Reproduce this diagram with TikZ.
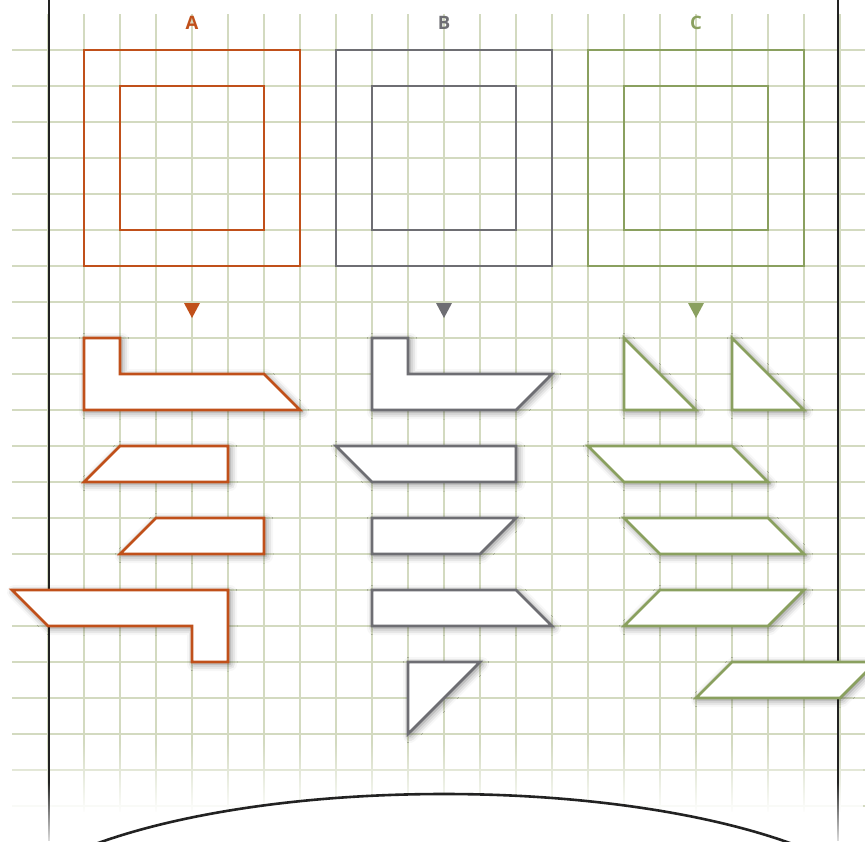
\documentclass[tikz,border=0pt]{standalone}
\usepackage{fontspec}
\setmainfont{Open Sans}
\usetikzlibrary{shadows.blur,fadings}
\definecolor{cA}{HTML}{C0501A}
\definecolor{cB}{HTML}{6E6E73}
\definecolor{cC}{HTML}{8AA05F}
\definecolor{gridc}{HTML}{D3DAC0}
\definecolor{ink}{HTML}{222222}
\tikzfading[name=fadedown, top color=transparent!100, bottom color=transparent!0]
\begin{document}
\begin{tikzpicture}[x=1pt,y=-1pt,
  gridline/.style={gridc, line width=1.7pt},
  frame/.style={draw, line width=2.6pt, line join=miter},
  piece/.style={draw, fill=white, line width=2.6pt, line join=miter,
    blur shadow={shadow xshift=2pt, shadow yshift=-2pt, shadow blur radius=7pt, shadow opacity=50}},
  lbl/.style={font=\bfseries\fontsize{18.5}{18.5}\selectfont, inner sep=0pt},
  marker/.style={draw=none}]
\useasboundingbox (0,0) rectangle (865,841);
\clip (0,0) rectangle (865,841);
% grid
\foreach \x in {48,84,...,840} \draw[gridline] (\x,14) -- (\x,812);
\foreach \y in {50,86,...,806} \draw[gridline] (12,\y) -- (865,\y);
\fill[white, path fading=fadedown] (0,742) rectangle (865,814);
% frame lines
\foreach \x in {49,838} {
  \draw[ink, line width=2.8pt] (\x,0) -- (\x,841);
  \fill[white, fill opacity=0.85, path fading=fadedown] (\x-3,782) rectangle (\x+3,841);
}
% bottom ellipse
\draw[ink, fill=white, line width=2.6pt] (444,934) ellipse [x radius=455, y radius=140];
% labels
\node[lbl, text=cA] (labA) at (192,23) {A};
\node[lbl, text=cB] (labB) at (444,23) {B};
\node[lbl, text=cC] (labC) at (696,23) {C};
% squares
\draw[frame, cA] (84,50) rectangle (300,266) (120,86) rectangle (264,230);
\draw[frame, cB] (336,50) rectangle (552,266) (372,86) rectangle (516,230);
\draw[frame, cC] (588,50) rectangle (804,266) (624,86) rectangle (768,230);
% markers
\fill[cA] (184,303) -- (200,303) -- (192,318) -- cycle;
\fill[cB] (436,303) -- (452,303) -- (444,318) -- cycle;
\fill[cC] (688,303) -- (704,303) -- (696,318) -- cycle;
% pieces A
\path[piece, draw=cA] (84,338) -- (120,338) -- (120,374) -- (264,374) -- (300,410) -- (84,410) -- cycle;
\path[piece, draw=cA] (120,446) -- (228,446) -- (228,482) -- (84,482) -- cycle;
\path[piece, draw=cA] (156,518) -- (264,518) -- (264,554) -- (120,554) -- cycle;
\path[piece, draw=cA] (12,590) -- (228,590) -- (228,662) -- (192,662) -- (192,626) -- (48,626) -- cycle;
% pieces B
\path[piece, draw=cB] (372,338) -- (408,338) -- (408,374) -- (552,374) -- (516,410) -- (372,410) -- cycle;
\path[piece, draw=cB] (336,446) -- (516,446) -- (516,482) -- (372,482) -- cycle;
\path[piece, draw=cB] (372,518) -- (516,518) -- (480,554) -- (372,554) -- cycle;
\path[piece, draw=cB] (372,590) -- (516,590) -- (552,626) -- (372,626) -- cycle;
\path[piece, draw=cB] (408,662) -- (480,662) -- (408,734) -- cycle;
% pieces C
\path[piece, draw=cC] (624,338) -- (696,410) -- (624,410) -- cycle;
\path[piece, draw=cC] (732,338) -- (804,410) -- (732,410) -- cycle;
\path[piece, draw=cC] (588,446) -- (732,446) -- (768,482) -- (624,482) -- cycle;
\path[piece, draw=cC] (624,518) -- (768,518) -- (804,554) -- (660,554) -- cycle;
\path[piece, draw=cC] (660,590) -- (804,590) -- (768,626) -- (624,626) -- cycle;
\path[piece, draw=cC] (732,662) -- (876,662) -- (840,698) -- (696,698) -- cycle;
\end{tikzpicture}
\end{document}
